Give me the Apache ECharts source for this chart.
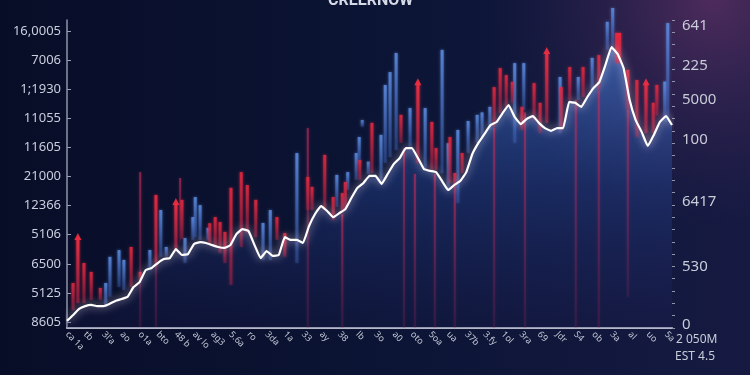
<!DOCTYPE html>
<html><head><meta charset="utf-8">
<script src="https://cdn.jsdelivr.net/npm/echarts/dist/echarts.min.js"></script>
<style>html,body{margin:0;padding:0;background:#0a0f2a}#c{width:750px;height:375px}</style>
</head><body><div id="c"></div>
<script>
// ---- data ----
const titleText = 'CREERNOW';
const leftLabels = ['8605','5125','6500','5106','12366','21000','11605','11055','1;1930','7006','16,0005'];
const rightLabels = [['0',1],['530',20],['6417',41],['100',61],['5000',74],['225',85],['641',98]];
const cornerNotes = ['2 050M','EST 4.5'];
const xTokens = ['ca 1a','tb','3l\'a','ao','o1a','bto','48 b','av lo','ag3','5.6a','ro','3da','1a','33','ay','38','lb','3o','a0','oto','5oa','ua','37b','3.fy','1ol','3ra','69','Jdr','S4','ob','3a','al','uo','5a'];
const lineVals = [2.3,4.2,6.2,7.1,7.5,7.1,7.1,7.8,8.8,9.4,10.1,13.3,14.9,18.8,19.5,21.1,22.4,22.7,25.6,23.7,
24.0,27.3,27.9,27.6,26.9,26.3,26.0,26.9,30.5,32.1,31.5,26.9,22.7,25.0,23.4,23.7,29.5,28.6,28.6,27.6,
33.1,37.0,39.6,38.0,36.0,37.3,38.6,42.2,45.5,47.1,49.4,49.4,46.8,50.0,53.2,55.2,58.4,58.4,55.2,51.6,
51.0,50.6,47.7,44.8,46.4,47.7,50.6,56.5,60.1,63.0,65.9,66.9,69.8,72.4,68.5,66.2,67.9,68.8,66.6,64.9,
64.0,64.9,64.9,73.4,73.1,71.8,75.0,77.9,79.9,85.4,91.2,89.0,84.4,74.0,67.5,63.6,59.1,62.7,66.9,68.8,65.9];
// [position, low, high]
const redBars = [[1.0,5.8,14.6],[2.8,8.1,21.1],[4.0,9.1,18.2],[5.5,9.1,13.0],[10.6,13.3,26.3],[12.1,15.6,18.2],
[14.7,20,43.2],[19.0,28.9,41.6],[23.6,27,34],[24.5,26.3,36.0],[25.3,24.4,34.4],[26.1,21.1,31.2],[27.1,14.0,45.5],
[28.8,26.3,50.6],[29.8,30.8,46.4],[31.2,29.5,41.6],[34.7,28.6,36.0],[36.0,23.1,30.8],[39.8,38.3,49.0],[40.5,38.3,45.8],
[42.6,38.3,56.2],[44.0,35.1,42.5],[45.5,37.3,43.8],[46.0,38.3,47.4],[48.4,48.1,54.5],[50.4,50.3,66.6],[55.2,60.1,69.2],
[60.3,51.3,66.9],[61.0,51.3,58.4],[63.3,47.1,62.0],[64.1,45.8,50.3],[65.3,50.3,56.8],[70.6,65.3,78.2],[71.6,69.8,84.4],
[72.6,71.8,82.1],[73.6,73.1,79.9],[75.2,64.3,71.8],[77.2,67.5,79.5],[78.2,63.3,73.1],[81.7,64.3,78.2],[83.1,74.0,84.7],
[85.3,75.0,84.7],[87.9,77.3,88.6],[92.7,70.8,83.8],[94.2,62.0,80.5],[96.9,63.3,73.1],[97.5,69,78.9]];
const redArrowBars = [[1.8,8.1,29.2],[18.0,25.3,40.6],[58.0,53.6,79.5],[79.3,66.6,89.6],[95.7,63.3,79.5]];
const redWideBars = [[91.1,86.0,95.8]];
const blueBars = [[6.4,6.8,14.6],[7.1,10.1,23.1],[8.6,13.3,25.3],[9.4,12.3,22.1],[13.7,18.8,25.3],[15.5,23.1,38.3],
[16.4,23.1,26.3],[19.5,21.1,29.2],[20.8,28.6,36.0],[21.2,29.5,42.5],[22.0,28.6,39.9],[23.3,28.6,32.5],[32.4,22.1,34.1],
[33.6,22.1,38.3],[38.0,21.1,56.8],[44.6,39.3,49.7],[46.4,44.8,50.6],[47.8,48.1,56.8],[48.3,53.6,62.0],[48.8,65.3,67.5],
[49.8,50,54],[51.9,47.1,62.7],[52.6,53.6,78.9],[53.4,55.5,83.1],[54.4,57.8,89.3],[56.7,58.8,71.4],[59.2,51.3,71.4],
[62.0,50.3,90.3],[63.0,44.8,60],[64.6,40.6,64.3],[66.3,56.8,67.2],[67.8,60.1,69.2],[68.6,62,70],[69.9,64.3,71.8],
[74.0,60.1,86.0],[75.5,70.8,86.0],[81.5,63.3,81.5],[84.5,74.0,81.5],[86.8,77.3,87.7],[89.3,90.3,99.4],[90.2,91.2,103.9],
[98.8,67,80],[99.3,67.5,99.0]];
const faintLines = [[12.1,0.3,50.6],[14.7,0.3,43],[18.7,27.6,48.7],[39.8,0,64.9],[45.5,0,37],[55.7,0,58.4],[57.5,0,50],
[60.8,0,50],[64.1,0,46],[70.6,0,65],[75.7,0,70],[84.1,0,74],[87.9,0,77],[92.7,10,70.8]];

// ---- build ----
const xCats = lineVals.map((v,i)=> i%3===0 ? (xTokens[i/3]||'') : ('·'+i));
const rightCats = Array.from({length:101},(_, i)=>{const f=rightLabels.find(r=>r[1]===i);return f?f[0]:'';});
const G = echarts.graphic;
function barRenderer(w, top, bottom, arrow){
  return function(params, api){
    const x=api.value(0), lo=api.value(1), hi=api.value(2);
    const a=api.coord([x,hi]), b=api.coord([x,lo]);
    const fill=new G.LinearGradient(0,0,0,1,[{offset:0,color:top},{offset:1,color:bottom}]);
    const children=[{type:'rect',shape:{x:a[0]-w/2,y:a[1],width:w,height:Math.max(1,b[1]-a[1])},style:{fill:fill,shadowBlur:3,shadowColor:top}}];
    if(arrow){children.push({type:'polygon',shape:{points:[[a[0]-3.5,a[1]+2],[a[0]+3.5,a[1]+2],[a[0],a[1]-5]]},style:{fill:top}});}
    return {type:'group',children:children};
  };
}
function customSeries(data, w, top, bottom, arrow, z){
  return {type:'custom',xAxisIndex:1,yAxisIndex:0,clip:false,z:z,silent:true,
    renderItem:barRenderer(w,top,bottom,arrow),encode:{x:0,y:[1,2]},data:data};
}
const chart = echarts.init(document.getElementById('c'),null,{renderer:'canvas'});
chart.setOption({
  animation:false,
  backgroundColor:new G.LinearGradient(0,0,1,0,[{offset:0,color:'#080d27'},{offset:0.55,color:'#0c1536'},{offset:1,color:'#161a42'}]),
  graphic:[
    {type:'rect',z:-100,silent:true,shape:{x:0,y:0,width:750,height:375},
     style:{fill:new G.RadialGradient(0.95,0.0,0.6,[{offset:0,color:'rgba(115,55,110,0.6)'},{offset:1,color:'rgba(60,40,90,0)'}])}},
    {type:'text',left:328,top:-7,style:{text:titleText,fill:'#d6dae6',font:'bold 16px Roboto'}},
    {type:'text',left:676,top:334,style:{text:cornerNotes[0],fill:'#c8ccd8',font:'12px "Noto Sans"'}},
    {type:'text',left:675,top:351,style:{text:cornerNotes[1],fill:'#c8ccd8',font:'12px "Noto Sans"'}}
  ],
  grid:[{left:67,right:78,top:20,bottom:47},{left:67,right:78,top:31,bottom:53}],
  xAxis:[
    {type:'category',gridIndex:0,data:xCats,boundaryGap:false,
     axisLine:{lineStyle:{color:'#b4b8c8',width:2}},axisTick:{show:false},
     axisLabel:{interval:2,rotate:-45,color:'#c4c8d6',fontSize:9,margin:5,fontFamily:'Noto Sans'}},
    {type:'value',gridIndex:0,min:0,max:100,show:false},
    {type:'value',gridIndex:1,show:false}
  ],
  yAxis:[
    {type:'value',gridIndex:0,min:0,max:100,position:'left',splitLine:{show:false},
     axisLine:{show:true,lineStyle:{color:'#8e94aa',width:1.5}},axisTick:{show:false},axisLabel:{show:false}},
    {type:'category',gridIndex:0,position:'right',data:rightCats,boundaryGap:false,
     axisLine:{show:false},axisTick:{show:true,length:3,interval:function(i){return i%4===0;},lineStyle:{color:'#8e94aa'}},
     axisLabel:{interval:0,color:'#c8ccd8',fontSize:15,margin:10,fontFamily:'Noto Sans'}},
    {type:'category',gridIndex:1,data:leftLabels,boundaryGap:false,
     axisLine:{show:false},axisTick:{show:true,inside:true,length:4,lineStyle:{color:'#9aa0b4'}},
     axisLabel:{color:'#c9cede',fontSize:13,margin:6,fontFamily:'Noto Sans'}}
  ],
  series:[
    {type:'line',xAxisIndex:0,yAxisIndex:0,data:lineVals,symbol:'none',smooth:0.1,z:1,silent:true,
     lineStyle:{width:0},
     areaStyle:{color:new G.LinearGradient(0,0,0,1,[{offset:0,color:'rgba(72,130,220,0.88)'},{offset:0.5,color:'rgba(40,72,155,0.55)'},{offset:1,color:'rgba(28,30,85,0.3)'}])}},
    customSeries(faintLines,2,'rgba(200,45,90,0.6)','rgba(130,35,90,0.2)',false,2),
    customSeries(blueBars,3,'rgba(95,145,230,0.8)','rgba(60,95,190,0.3)',false,3),
    customSeries(redBars,3,'rgba(230,40,62,0.85)','rgba(175,35,75,0.35)',false,4),
    customSeries(redArrowBars,3,'rgba(235,45,65,0.95)','rgba(180,35,75,0.45)',true,4),
    customSeries(redWideBars,6,'rgba(235,40,62,0.95)','rgba(190,35,70,0.6)',false,4),
    {type:'line',xAxisIndex:0,yAxisIndex:0,data:lineVals,symbol:'none',smooth:0.1,z:6,silent:true,
     lineStyle:{color:'#ffffff',width:2.2,shadowBlur:8,shadowColor:'rgba(255,230,240,0.8)'}}
  ]
});
</script></body></html>
